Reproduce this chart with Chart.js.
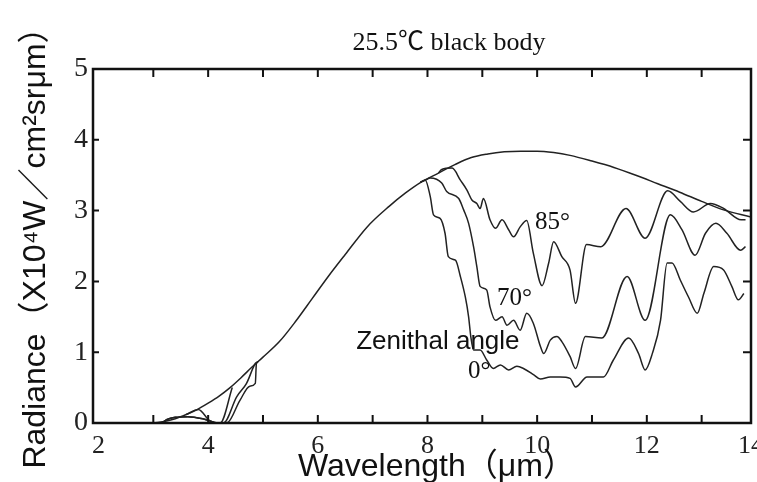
<!DOCTYPE html>
<html>
<head>
<meta charset="utf-8">
<script src="https://cdn.jsdelivr.net/npm/chart.js@4.4.1/dist/chart.umd.min.js"></script>
<style>
  body { margin: 0; background: #fff; }
  #chart { display: block; }
</style>
</head>
<body>
<canvas id="chart" width="757" height="482"></canvas>
<script>
// 25.5 C black body
const bbX = [2, 3.0, 3.2, 3.4, 3.6, 3.8, 4.0, 4.2, 4.4, 4.6, 4.8, 5.0, 5.3, 5.6, 5.9, 6.2, 6.5, 6.9, 7.3, 7.6, 7.9, 8.2, 8.5, 8.8, 9.1, 9.4, 9.7, 10.0, 10.3, 10.6, 11.0, 11.4, 11.8, 12.2, 12.6, 13.0, 13.4, 13.9];
const bbY = [0, 0, 0.02, 0.06, 0.12, 0.19, 0.28, 0.38, 0.5, 0.64, 0.79, 0.93, 1.15, 1.44, 1.76, 2.08, 2.38, 2.77, 3.06, 3.25, 3.41, 3.53, 3.65, 3.75, 3.8, 3.83, 3.84, 3.84, 3.82, 3.78, 3.7, 3.61, 3.5, 3.38, 3.26, 3.13, 3.01, 2.91];

// zenithal angle 0
const deg0LowX = [3.15, 3.25, 3.4, 3.63, 3.9, 4.03, 4.2, 4.34, 4.58, 4.76, 4.86, 4.88, 4.92];
const deg0LowY = [0, 0.05, 0.08, 0.09, 0.06, 0.03, 0, 0, 0.32, 0.52, 0.56, 0.84, 0.87];
const deg0HighX = [7.87, 7.96, 8.05, 8.11, 8.23, 8.32, 8.38, 8.51, 8.6, 8.69, 8.75, 8.79, 8.84, 8.96, 9.08, 9.2, 9.33, 9.48, 9.63, 9.75, 9.94, 10.06, 10.24, 10.42, 10.6, 10.7, 10.91, 11.21, 11.39, 11.67, 11.85, 11.97, 12.1, 12.25, 12.37, 12.46, 12.61, 12.76, 12.92, 13.04, 13.22, 13.4, 13.55, 13.67, 13.77];
const deg0HighY = [3.4, 3.43, 3.2, 2.94, 2.89, 2.68, 2.35, 2.3, 2.07, 1.78, 1.5, 1.22, 1.03, 1.03, 0.89, 0.77, 0.82, 0.75, 0.8, 0.77, 0.68, 0.62, 0.65, 0.65, 0.63, 0.51, 0.65, 0.65, 0.89, 1.2, 0.98, 0.75, 0.98, 1.45, 2.26, 2.26, 2.02, 1.78, 1.55, 1.83, 2.21, 2.16, 1.93, 1.74, 1.83];

// zenithal angle 70
const deg70LowX = [3.15, 3.25, 3.4, 3.63, 3.9, 4.03, 4.15, 4.28, 4.52, 4.7, 4.86, 4.9];
const deg70LowY = [0, 0.05, 0.08, 0.09, 0.06, 0.03, 0, 0, 0.37, 0.56, 0.84, 0.86];
const deg70HighX = [7.87, 7.96, 8.05, 8.26, 8.35, 8.57, 8.66, 8.75, 8.84, 8.9, 8.96, 9.08, 9.14, 9.24, 9.36, 9.45, 9.57, 9.69, 9.81, 9.93, 10.06, 10.12, 10.24, 10.36, 10.45, 10.6, 10.7, 10.88, 11.18, 11.64, 11.97, 12.43, 12.64, 12.88, 13.07, 13.26, 13.46, 13.71, 13.8];
const deg70HighY = [3.4, 3.43, 3.46, 3.39, 3.27, 3.17, 3.01, 2.82, 2.49, 2.21, 1.93, 1.88, 1.64, 1.45, 1.5, 1.38, 1.45, 1.31, 1.55, 1.41, 1.08, 0.98, 1.17, 1.22, 1.15, 0.94, 0.77, 1.22, 1.2, 2.07, 1.45, 2.94, 2.73, 2.37, 2.68, 2.82, 2.68, 2.44, 2.49];

// zenithal angle 85
const deg85LowX = [3.6, 3.82, 4.03, 4.15, 4.22, 4.44];
const deg85LowY = [0.12, 0.19, 0.03, 0, 0, 0.5];
const deg85HighX = [8.2, 8.26, 8.45, 8.6, 8.72, 8.81, 8.9, 8.96, 9.02, 9.14, 9.24, 9.36, 9.48, 9.57, 9.69, 9.81, 9.93, 10.09, 10.21, 10.3, 10.45, 10.6, 10.7, 10.9, 11.16, 11.62, 11.97, 12.38, 12.61, 12.85, 13.16, 13.4, 13.72, 13.8];
const deg85HighY = [3.53, 3.58, 3.6, 3.43, 3.29, 3.15, 3.1, 3.03, 3.17, 2.87, 2.75, 2.87, 2.73, 2.63, 2.77, 2.86, 2.4, 1.94, 2.26, 2.56, 2.35, 2.16, 1.69, 2.52, 2.49, 3.03, 2.61, 3.28, 3.13, 2.98, 3.1, 3.03, 2.87, 2.87];

const xTickLabels = ['2', '4', '6', '8', '10', '12', '14'];
const xTickValues = [2, 4, 6, 8, 10, 12, 13.9];
const xMinor = [3, 4, 5, 6, 7, 8, 9, 10, 11, 12, 13];
const yMinor = [1, 2, 3, 4];

function pts(xs, ys) {
  return xs.map((x, i) => ({ x: x, y: ys[i] }));
}
function twoParts(lx, ly, hx, hy) {
  return pts(lx, ly).concat([{ x: 6.5, y: null }], pts(hx, hy));
}

const ink = '#222';

const frame = {
  id: 'frame',
  afterDraw(chart) {
    const { ctx, chartArea: a, scales: { x, y } } = chart;
    ctx.save();
    ctx.strokeStyle = '#111';
    ctx.lineWidth = 2.5;
    ctx.strokeRect(a.left, a.top, a.right - a.left, a.bottom - a.top);
    ctx.lineWidth = 2;
    ctx.beginPath();
    xMinor.forEach(v => {
      const px = x.getPixelForValue(v);
      ctx.moveTo(px, a.bottom); ctx.lineTo(px, a.bottom - 8);
      ctx.moveTo(px, a.top); ctx.lineTo(px, a.top + 8);
    });
    yMinor.forEach(v => {
      const py = y.getPixelForValue(v);
      ctx.moveTo(a.left, py); ctx.lineTo(a.left + 6, py);
      ctx.moveTo(a.right, py); ctx.lineTo(a.right - 8, py);
    });
    ctx.stroke();

    ctx.fillStyle = '#111';
    ctx.textBaseline = 'alphabetic';

    // title
    ctx.font = '26px "Liberation Serif", "Noto Sans CJK JP", serif';
    ctx.textAlign = 'center';
    ctx.fillText('25.5℃ black body', 449, 50);

    // axis titles
    ctx.font = '32px "Liberation Sans", "Noto Sans CJK JP", sans-serif';
    ctx.textAlign = 'left';
    ctx.fillText('Wavelength（μm）', 298, 476);
    ctx.save();
    ctx.translate(45, 240);
    ctx.rotate(-Math.PI / 2);
    ctx.textAlign = 'center';
    ctx.fillText('Radiance（X10⁴W／cm²srμm）', 0, 0);
    ctx.restore();

    // curve labels
    ctx.textAlign = 'left';
    ctx.font = '26px "Liberation Sans", sans-serif';
    ctx.fillText('Zenithal angle', x.getPixelForValue(6.7), y.getPixelForValue(1.05));
    ctx.font = '25px "Liberation Serif", serif';
    ctx.fillText('85°', x.getPixelForValue(9.96), y.getPixelForValue(2.74));
    ctx.fillText('70°', x.getPixelForValue(9.27), y.getPixelForValue(1.67));
    ctx.fillText('0°', x.getPixelForValue(8.74), y.getPixelForValue(0.64));
    ctx.restore();
  }
};

const lineStyle = {
  borderColor: ink,
  borderWidth: 1.5,
  pointRadius: 0,
  fill: false,
  cubicInterpolationMode: 'monotone',
  spanGaps: false
};

new Chart(document.getElementById('chart'), {
  type: 'line',
  data: {
    datasets: [
      Object.assign({ label: 'black body', data: pts(bbX, bbY) }, lineStyle),
      Object.assign({ label: '0°', data: twoParts(deg0LowX, deg0LowY, deg0HighX, deg0HighY) }, lineStyle),
      Object.assign({ label: '70°', data: twoParts(deg70LowX, deg70LowY, deg70HighX, deg70HighY) }, lineStyle),
      Object.assign({ label: '85°', data: twoParts(deg85LowX, deg85LowY, deg85HighX, deg85HighY) }, lineStyle)
    ]
  },
  options: {
    responsive: false,
    animation: false,
    devicePixelRatio: 1,
    layout: { padding: { top: 69, right: 6, left: 0, bottom: 0 } },
    plugins: {
      legend: { display: false },
      tooltip: { enabled: false }
    },
    scales: {
      x: {
        type: 'linear',
        min: 1.9,
        max: 13.9,
        grid: { display: false, drawTicks: false },
        border: { display: false },
        afterBuildTicks: scale => {
          scale.ticks = xTickValues.map(v => ({ value: v }));
        },
        afterFit: scale => {
          scale.height = 59;
          scale.paddingLeft = 0;
          scale.paddingRight = 0;
        },
        ticks: {
          color: ink,
          padding: 8,
          maxRotation: 0,
          autoSkip: false,
          font: { family: '"Liberation Serif", serif', size: 26 },
          callback: (v, i) => xTickLabels[i]
        }
      },
      y: {
        min: 0,
        max: 5,
        grid: { display: false, drawTicks: false },
        border: { display: false },
        afterFit: scale => { scale.width = 93; },
        ticks: {
          stepSize: 1,
          color: ink,
          padding: 5,
          font: { family: '"Liberation Serif", serif', size: 28 }
        }
      }
    }
  },
  plugins: [frame]
});
</script>
</body>
</html>
